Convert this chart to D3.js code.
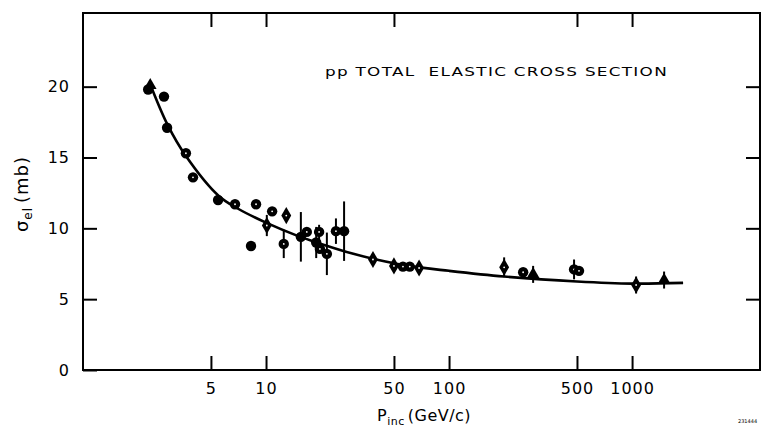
<!DOCTYPE html>
<html>
<head>
<meta charset="utf-8">
<title>pp total elastic cross section</title>
<script src="https://cdn.jsdelivr.net/npm/d3@7"></script>
<style>
  body { margin: 0; background: #fff; }
  svg { display: block; }
  text { font-family: "DejaVu Sans", sans-serif; fill: #000; }
</style>
</head>
<body>
<div id="chart"></div>
<script>
// measured points
var momentum = [2.27, 2.33, 2.77, 2.88, 3.65, 3.99, 5.47, 6.77, 8.82, 10.8, 12.9, 10.1, 8.28,
                12.5, 15.5, 16.7, 19.5, 18.8, 19.7, 21.5, 24.1, 26.7, 38.4, 50, 56, 61, 68.6,
                200, 254, 288, 482, 513, 1052, 1496];
var sigma    = [19.8, 20.1, 19.3, 17.1, 15.3, 13.6, 12.0, 11.7, 11.7, 11.2, 10.9, 10.2, 8.75,
                8.9, 9.4, 9.75, 9.75, 9.0, 8.55, 8.2, 9.8, 9.8, 7.8, 7.35, 7.3, 7.3, 7.2,
                7.25, 6.9, 6.75, 7.1, 7.0, 6.0, 6.35];
var sigmaErr = [0, 0, 0, 0, 0, 0, 0, 0, 0, 0, 0, 0.75, 0,
                1.0, 1.75, 0, 0.5, 1.1, 0, 1.5, 0.9, 2.1, 0, 0, 0, 0, 0,
                0.7, 0, 0.6, 0.7, 0, 0.6, 0.6];
var marker   = ["dot", "tri", "dot", "dot", "ring", "ring", "dot", "ring", "ring", "ring", "diamond", "diamond", "dot",
                "ring", "dot", "ring", "ring", "dot", "ring", "ring", "ring", "dot", "diamond", "diamond", "ring", "ring", "diamond",
                "diamond", "ring", "tri", "ring", "ring", "diamond", "tri"];

// hand-drawn fit curve
var fitP     = [2.3, 2.9, 3.65, 5.5, 7, 10, 15, 20, 30, 40, 60, 100, 200, 500, 1000, 1900];
var fitSigma = [20.35, 17.3, 15.1, 12.3, 11.4, 10.4, 9.45, 8.9, 8.2, 7.8, 7.35, 7.0, 6.6, 6.25, 6.1, 6.15];

var xTicks = [5, 10, 50, 100, 500, 1000];
var xTopTicks = [5, 10, 50, 500, 1000];
var yTicks = [0, 5, 10, 15, 20];

var width = 761, height = 430;
var margin = {top: 13, right: 1, bottom: 60, left: 83};

var svg = d3.select("#chart").append("svg")
    .attr("width", width)
    .attr("height", height);

var x = d3.scaleLog()
    .domain([1, 5000])
    .range([margin.left, width - margin.right]);

var y = d3.scaleLinear()
    .domain([0, 25.2])
    .range([height - margin.bottom, margin.top]);

var tickLen = 14;

// frame
svg.append("rect")
    .attr("x", margin.left)
    .attr("y", margin.top)
    .attr("width", x.range()[1] - margin.left)
    .attr("height", y(0) - margin.top)
    .attr("fill", "none")
    .attr("stroke", "#000")
    .attr("stroke-width", 2);

// axes: ticks point inward
function styleTicks(g) {
  g.select(".domain").remove();
  g.selectAll("line").attr("stroke", "#000").attr("stroke-width", 2);
  g.selectAll("text").attr("font-size", 16).attr("font-family", "DejaVu Sans").style("letter-spacing", "1px");
}

svg.append("g")
    .attr("transform", `translate(0,${y(0)})`)
    .call(d3.axisBottom(x).tickValues(xTicks).tickFormat(d3.format("d")).tickSizeInner(-tickLen).tickSizeOuter(0).tickPadding(13))
    .call(styleTicks);

svg.append("g")
    .attr("transform", `translate(0,${margin.top})`)
    .call(d3.axisTop(x).tickValues(xTopTicks).tickFormat("").tickSizeInner(-tickLen).tickSizeOuter(0))
    .call(styleTicks);

svg.append("g")
    .attr("transform", `translate(${margin.left},0)`)
    .call(d3.axisLeft(y).tickValues(yTicks).tickSizeInner(-tickLen).tickSizeOuter(0).tickPadding(13))
    .call(styleTicks);

svg.append("g")
    .attr("transform", `translate(${x.range()[1]},0)`)
    .call(d3.axisRight(y).tickValues(yTicks.slice(1)).tickFormat("").tickSizeInner(-tickLen).tickSizeOuter(0))
    .call(styleTicks);

// fit curve
var fit = fitP.map((p, i) => [p, fitSigma[i]]);
svg.append("path")
    .datum(fit)
    .attr("fill", "none")
    .attr("stroke", "#000")
    .attr("stroke-width", 2.6)
    .attr("d", d3.line().x(d => x(d[0])).y(d => y(d[1])).curve(d3.curveCatmullRom));

// data points
var pts = momentum.map((p, i) => ({p: p, s: sigma[i], e: sigmaErr[i], m: marker[i]}));

svg.append("g").selectAll("line")
    .data(pts.filter(d => d.e > 0))
    .join("line")
    .attr("x1", d => x(d.p)).attr("x2", d => x(d.p))
    .attr("y1", d => y(d.s - d.e)).attr("y2", d => y(d.s + d.e))
    .attr("stroke", "#000")
    .attr("stroke-width", 2);

var shape = {
  dot: d3.symbol().type(d3.symbolCircle).size(85),
  ring: d3.symbol().type(d3.symbolCircle).size(85),
  diamond: d3.symbol().type(d3.symbolDiamond).size(85),
  tri: d3.symbol().type(d3.symbolTriangle).size(70)
};

var mk = svg.append("g").selectAll("g")
    .data(pts)
    .join("g")
    .attr("transform", d => `translate(${x(d.p)},${y(d.s)})`);

mk.append("path")
    .attr("d", d => shape[d.m]())
    .attr("fill", "#000");

mk.filter(d => d.m == "ring" || d.m == "diamond")
    .append("circle")
    .attr("r", 0.9)
    .attr("fill", "#fff");

// labels
svg.append("text")
    .attr("x", 325)
    .attr("y", 76)
    .attr("font-size", 13)
    .attr("textLength", 343)
    .attr("lengthAdjust", "spacingAndGlyphs")
    .style("letter-spacing", "1px")
    .style("white-space", "pre")
    .text("pp TOTAL  ELASTIC CROSS SECTION");

var xl = svg.append("text")
    .attr("x", 377)
    .attr("y", 421)
    .attr("font-size", 16)
    .style("letter-spacing", "0.5px");
xl.append("tspan").text("P");
xl.append("tspan").attr("font-size", 11).attr("dy", 4).text("inc");
xl.append("tspan").attr("dy", -4).attr("dx", 3).text("(GeV/c)");

var yl = svg.append("text")
    .attr("transform", "translate(28,194) rotate(-90)")
    .attr("text-anchor", "middle")
    .attr("font-size", 18)
    .style("letter-spacing", "1px");
yl.append("tspan").text("σ");
yl.append("tspan").attr("font-size", 12).attr("dy", 4).text("el");
yl.append("tspan").attr("dy", -4).attr("dx", 4).text("(mb)");

svg.append("text")
    .attr("x", 738)
    .attr("y", 423)
    .attr("font-size", 5)
    .text("231444");
</script>
</body>
</html>
